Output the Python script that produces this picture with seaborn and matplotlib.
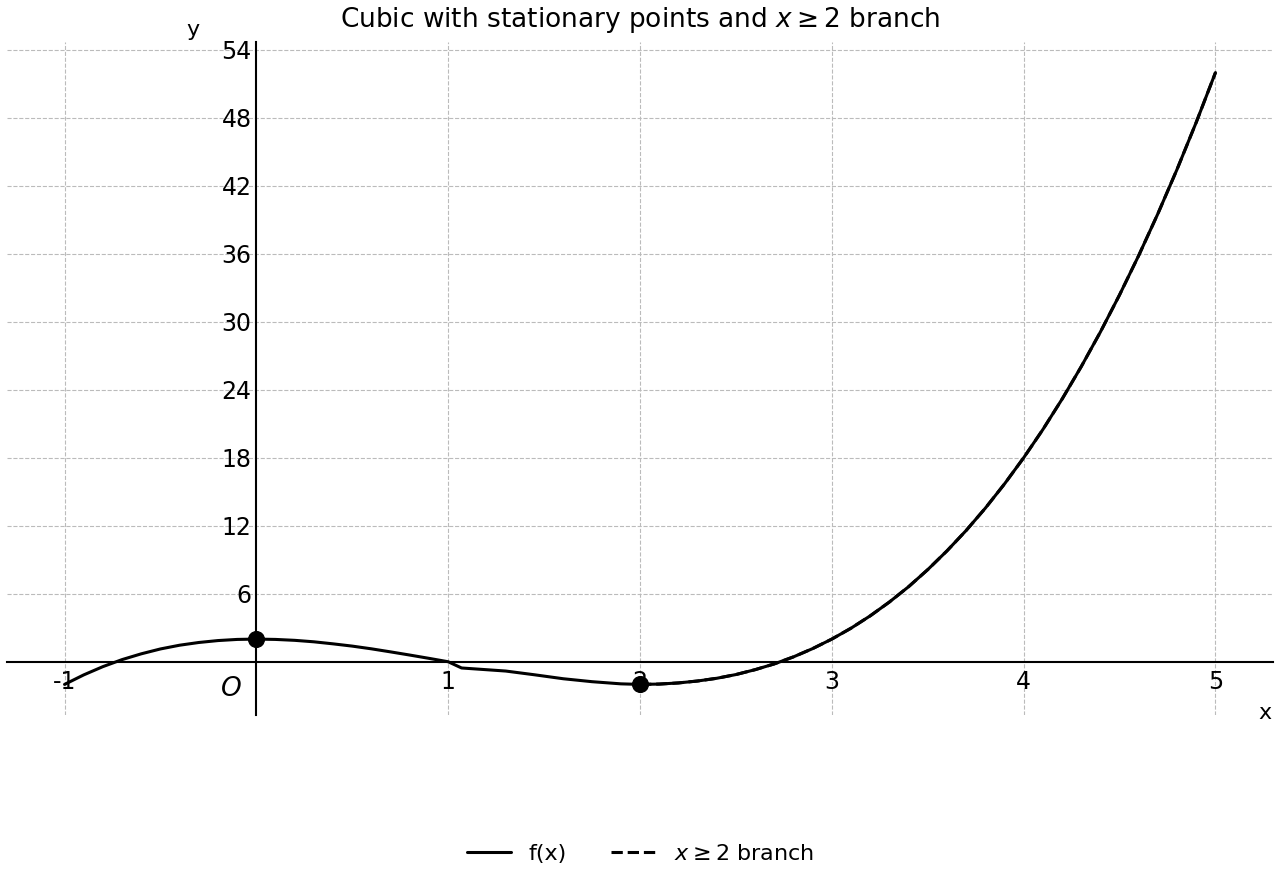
import matplotlib
matplotlib.use("Agg")
import matplotlib.pyplot as plt
import seaborn as sns
import pandas as pd

# ---- data ----
left_x = [-1.0, -0.9, -0.8, -0.7, -0.6, -0.5, -0.4, -0.3, -0.2, -0.1, 0.0,
          0.1, 0.2, 0.3, 0.4, 0.5, 0.6, 0.7, 0.8, 0.9, 1.0,
          1.07, 1.3, 1.45, 1.6, 1.75, 1.9]
left_y = [-2.0, -1.16, -0.43, 0.19, 0.70, 1.13, 1.46, 1.70, 1.87, 1.97, 2.0,
          1.97, 1.89, 1.76, 1.58, 1.38, 1.14, 0.87, 0.59, 0.30, 0.0,
          -0.55, -0.82, -1.15, -1.50, -1.76, -1.95]

branch_x = [2.0, 2.1, 2.2, 2.3, 2.4, 2.5, 2.6, 2.7, 2.8, 2.9,
            3.0, 3.1, 3.2, 3.3, 3.4, 3.5, 3.6, 3.7, 3.8, 3.9,
            4.0, 4.1, 4.2, 4.3, 4.4, 4.5, 4.6, 4.7, 4.8, 4.9, 5.0]
branch_y = [-2.0, -1.97, -1.87, -1.70, -1.46, -1.13, -0.70, -0.19, 0.43, 1.16,
            2.0, 2.96, 4.05, 5.27, 6.62, 8.13, 9.78, 11.58, 13.55, 15.69,
            18.0, 20.49, 23.17, 26.04, 29.10, 32.38, 35.86, 39.55, 43.47, 47.62, 52.0]

stationary_x = [0.0, 2.0]
stationary_y = [2.0, -2.0]

xtick_vals = [-1, 1, 2, 3, 4, 5]
xtick_labels = ["-1", "1", "2", "3", "4", "5"]
ytick_vals = [6, 12, 18, 24, 30, 36, 42, 48, 54]
ytick_labels = ["6", "12", "18", "24", "30", "36", "42", "48", "54"]

title = r"Cubic with stationary points and $x \geq 2$ branch"

# ---- plotting ----
sns.set_style("white")
plt.rcParams["font.family"] = ["DejaVu Sans"]
plt.rcParams["axes.unicode_minus"] = False
for key in ["text.color", "axes.labelcolor", "xtick.color", "ytick.color",
            "axes.titlecolor"]:
    plt.rcParams[key] = "black"

fig = plt.figure(figsize=(12.8, 8.8), dpi=100)
ax = fig.add_axes([7 / 1280, 165 / 880, 1266 / 1280, 673 / 880])

df_curve = pd.DataFrame({"x": left_x + branch_x, "y": left_y + branch_y})
df_branch = pd.DataFrame({"x": branch_x, "y": branch_y})
df_pts = pd.DataFrame({"x": stationary_x, "y": stationary_y})

sns.lineplot(data=df_curve, x="x", y="y", ax=ax, color="black", linewidth=2.2,
             sort=False, estimator=None, label="f(x)", zorder=3)
sns.lineplot(data=df_branch, x="x", y="y", ax=ax, color="black", linewidth=2.2,
             linestyle="--", sort=False, estimator=None,
             label=r"$x \geq 2$ branch", zorder=4)
sns.scatterplot(data=df_pts, x="x", y="y", ax=ax, color="black", s=130,
                edgecolor="black", zorder=5, legend=False)

ax.set_xlim(-1.3, 5.3)
ax.set_ylim(-4.7, 54.7)

for side in ["top", "right"]:
    ax.spines[side].set_visible(False)
ax.spines["left"].set_position(("data", 0))
ax.spines["bottom"].set_position(("data", 0))
for side in ["left", "bottom"]:
    ax.spines[side].set_linewidth(1.5)
    ax.spines[side].set_color("black")

ax.set_xticks(xtick_vals)
ax.set_xticklabels(xtick_labels)
ax.set_yticks(ytick_vals)
ax.set_yticklabels(ytick_labels)
ax.tick_params(direction="in", length=6, width=1.3, labelsize=17, colors="black")
ax.tick_params(axis="x", pad=6)
ax.set_xlabel("")
ax.set_ylabel("")

ax.grid(True, linestyle="--", color="#bbbbbb", linewidth=0.8)
ax.set_axisbelow(True)

ax.text(0.147, 1.018, "y", transform=ax.transAxes, fontsize=16,
        ha="center", va="center")
ax.text(0.994, 0.003, "x", transform=ax.transAxes, fontsize=16,
        ha="center", va="center")
ax.text(-0.13, -2.4, "O", fontsize=19, style="italic", ha="center", va="center")

ax.set_title(title, fontsize=19, pad=11, color="black")

handles, labels = ax.get_legend_handles_labels()
if ax.get_legend() is not None:
    ax.get_legend().remove()
fig.legend(handles, labels, loc="center", bbox_to_anchor=(0.5, 1 - 854 / 880),
           ncol=2, frameon=False, fontsize=16, handlelength=2.0,
           columnspacing=2.0)

fig.savefig("out.png", dpi=100)
